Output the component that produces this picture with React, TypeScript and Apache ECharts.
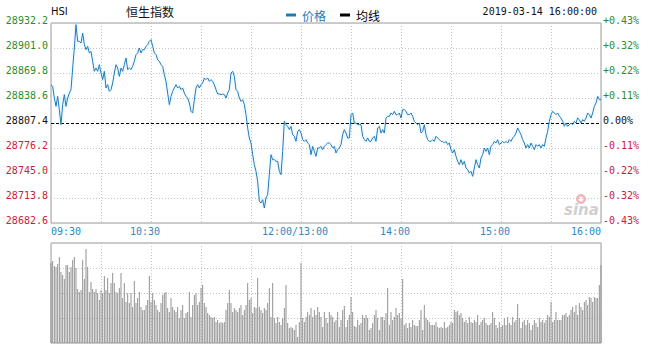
import React, { useEffect, useRef } from 'react';
import * as echarts from 'echarts';

const prevClose = 28807.4;

const priceValues = [
  28855.2, 28853.2, 28838.6, 28828.2, 28840.7, 28824.0, 28805.3, 28830.3, 28842.8, 28828.2,
  28838.6, 28844.8, 28849.0, 28876.0, 28901.0, 28930.1, 28909.3, 28909.3, 28907.2, 28919.7,
  28905.2, 28898.9, 28903.1, 28894.8, 28896.8, 28884.4, 28871.9, 28876.0, 28871.9, 28880.2,
  28869.8, 28861.5, 28871.9, 28851.1, 28855.2, 28846.9, 28849.0, 28857.3, 28869.8, 28880.2,
  28876.0, 28865.6, 28876.0, 28871.9, 28880.2, 28888.5, 28874.0, 28876.0, 28874.0, 28878.1,
  28884.4, 28892.7, 28894.8, 28901.0, 28894.8, 28898.9, 28898.9, 28903.1, 28905.2, 28909.3,
  28911.4, 28903.1, 28894.8, 28892.7, 28886.4, 28884.4, 28880.2, 28878.1, 28867.7, 28859.4,
  28844.8, 28830.3, 28840.7, 28846.9, 28851.1, 28855.2, 28851.1, 28853.2, 28849.0, 28851.1,
  28844.8, 28840.7, 28838.6, 28832.4, 28822.0, 28819.9, 28836.5, 28851.1, 28855.2, 28851.1,
  28855.2, 28857.3, 28863.6, 28861.5, 28863.6, 28859.4, 28861.5, 28859.4, 28855.2, 28849.0,
  28843.6, 28843.6, 28842.8, 28843.6, 28842.8, 28838.6, 28844.8, 28849.0, 28869.8, 28871.9,
  28865.6, 28849.0, 28846.9, 28838.6, 28834.4, 28836.5, 28830.3, 28817.8, 28801.2, 28788.7,
  28782.4, 28767.9, 28755.4, 28747.1, 28734.6, 28709.6, 28707.6, 28711.7, 28701.3, 28713.8,
  28718.0, 28742.9, 28767.9, 28761.6, 28761.6, 28759.6, 28759.6, 28747.1, 28742.9, 28772.0,
  28809.5, 28805.3, 28803.2, 28799.1, 28803.2, 28792.8, 28790.8, 28784.5, 28797.0, 28799.1,
  28794.9, 28786.6, 28784.5, 28786.6, 28782.4, 28780.4, 28767.9, 28778.3, 28772.0, 28765.8,
  28776.2, 28776.2, 28778.3, 28774.1, 28778.3, 28780.4, 28782.4, 28782.4, 28780.4, 28776.2,
  28778.3, 28770.0, 28774.1, 28776.2, 28780.4, 28792.8, 28799.1, 28794.9, 28788.7, 28788.7,
  28817.8, 28819.9, 28807.4, 28807.4, 28805.3, 28805.3, 28805.3, 28790.8, 28786.6, 28784.5,
  28788.7, 28784.5, 28784.5, 28788.7, 28790.8, 28784.5, 28801.2, 28803.2, 28794.9, 28799.1,
  28794.9, 28813.6, 28815.7, 28815.7, 28819.9, 28817.8, 28822.0, 28817.8, 28817.8, 28819.9,
  28813.6, 28824.0, 28824.0, 28822.0, 28817.8, 28817.8, 28819.9, 28815.7, 28809.5, 28807.4,
  28805.3, 28807.4, 28794.9, 28797.0, 28805.3, 28792.8, 28786.6, 28784.5, 28784.5, 28786.6,
  28784.5, 28790.8, 28788.7, 28786.6, 28784.5, 28784.5, 28782.4, 28784.5, 28780.4, 28782.4,
  28774.1, 28770.0, 28774.1, 28765.8, 28759.6, 28755.4, 28761.6, 28755.4, 28759.6, 28751.2,
  28749.2, 28745.0, 28747.1, 28740.8, 28751.2, 28761.6, 28755.4, 28751.2, 28763.7, 28767.9,
  28776.2, 28772.0, 28776.2, 28767.9, 28778.3, 28780.4, 28784.5, 28782.4, 28786.6, 28780.4,
  28782.4, 28784.5, 28782.4, 28784.5, 28782.4, 28786.6, 28784.5, 28788.7, 28790.8, 28794.9,
  28801.2, 28797.0, 28792.8, 28786.6, 28782.4, 28776.2, 28780.4, 28776.2, 28782.4, 28778.3,
  28774.1, 28780.4, 28778.3, 28780.4, 28776.2, 28780.4, 28778.3, 28788.7, 28797.0, 28809.5,
  28817.8, 28822.0, 28819.9, 28817.8, 28819.9, 28815.7, 28813.6, 28809.5, 28803.2, 28807.4,
  28803.2, 28805.3, 28807.4, 28805.3, 28809.5, 28807.4, 28813.6, 28811.6, 28807.4, 28811.6,
  28809.5, 28813.6, 28819.9, 28817.8, 28813.6, 28819.9, 28828.2, 28832.4, 28840.7, 28836.5, 28836.5,
];

const volumeValues = [
  80, 82, 77, 76, 79, 86, 71, 68, 64, 78,
  78, 71, 76, 83, 86, 75, 54, 51, 53, 83,
  64, 94, 76, 51, 61, 54, 51, 54, 50, 43,
  53, 50, 67, 53, 65, 50, 60, 70, 60, 51,
  50, 55, 70, 45, 60, 41, 50, 40, 50, 36,
  62, 40, 45, 51, 36, 33, 33, 38, 43, 67,
  41, 50, 43, 38, 33, 31, 40, 48, 50, 51,
  35, 31, 45, 36, 33, 31, 36, 25, 33, 38,
  25, 30, 31, 51, 26, 38, 48, 50, 38, 41,
  55, 58, 40, 36, 30, 28, 26, 25, 26, 21,
  23, 20, 21, 20, 21, 33, 40, 53, 40, 31,
  35, 33, 31, 35, 38, 28, 33, 38, 60, 43,
  45, 30, 36, 35, 65, 36, 33, 30, 35, 33,
  40, 55, 26, 60, 25, 20, 26, 21, 18, 25,
  35, 58, 20, 15, 16, 15, 13, 18, 6, 21,
  80, 25, 21, 26, 31, 28, 35, 26, 33, 28,
  36, 31, 26, 16, 31, 25, 20, 31, 28, 26,
  21, 23, 31, 16, 23, 33, 37, 16, 23, 28,
  46, 31, 17, 16, 23, 18, 20, 28, 25, 28,
  25, 13, 15, 20, 28, 33, 25, 13, 26, 26,
  23, 30, 55, 18, 31, 23, 26, 35, 28, 30,
  25, 64, 18, 20, 15, 20, 16, 23, 18, 17,
  17, 23, 33, 13, 38, 25, 23, 21, 18, 18,
  18, 21, 16, 15, 16, 15, 21, 15, 16, 18,
  21, 20, 33, 31, 32, 28, 30, 25, 21, 23,
  20, 26, 21, 20, 23, 21, 28, 18, 21, 23,
  25, 20, 18, 18, 20, 31, 25, 18, 15, 21,
  16, 18, 25, 18, 26, 20, 18, 26, 21, 23,
  39, 25, 15, 21, 23, 18, 23, 20, 13, 18,
  23, 20, 16, 25, 21, 23, 20, 23, 28, 26,
  41, 21, 23, 31, 23, 23, 23, 28, 28, 30,
  26, 28, 33, 36, 31, 38, 28, 40, 36, 33,
  41, 43, 38, 46, 45, 41, 46, 45, 45, 58, 78,
];

const timeTickMinutes = [0, 60, 150, 210, 270, 330];
const timeTickLabels = ['09:30', '10:30', '12:00/13:00', '14:00', '15:00', '16:00'];
const seriesNames = ['价格', '均线'];
const titleCode = 'HSI';
const titleName = '恒生指数';
const dateText = '2019-03-14 16:00:00';

export default function App() {
  const ref = useRef<HTMLDivElement>(null);

  useEffect(() => {
    const chart = echarts.init(ref.current!, null, { renderer: 'svg' });
    const mono = '"DejaVu Sans Mono", "Liberation Mono", monospace';
    const cjk = '"Noto Sans CJK SC", "Noto Sans", sans-serif';
    const green = '#2e8b2e';
    const red = '#c8213c';
    const blue = '#1f7ab8';
    const labelBlue = '#2a8ac4';
    const gridGray = '#c4c4c4';
    const borderGray = '#9a9a9a';

    const priceData = priceValues.map((p, i) => [i, Math.round((p - prevClose) * 10)]);
    const volData = volumeValues.map((v, i) => [i, v]);

    const leftFmt = (v: number) => {
      const n = Math.round(v);
      const s = (prevClose + n / 10).toFixed(1);
      return n > 0 ? `{g|${s}}` : n < 0 ? `{r|${s}}` : `{k|${s}}`;
    };
    const rightFmt = (v: number) => {
      const n = Math.round(v);
      const pct = (n / 10 / prevClose) * 100;
      if (n > 0) return `{g|+${pct.toFixed(2)}%}`;
      if (n < 0) return `{r|${pct.toFixed(2)}%}`;
      return `{k|0.00%}`;
    };
    const richY = {
      g: { color: green, fontFamily: mono, fontSize: 10, padding: [0, 0, 6, 0] },
      r: { color: red, fontFamily: mono, fontSize: 10, padding: [0, 0, 6, 0] },
      k: { color: '#111', fontFamily: mono, fontSize: 10, padding: [0, 0, 6, 0] },
    };
    const xFmt = (v: number) => {
      const idx = timeTickMinutes.indexOf(Math.round(v));
      if (idx < 0) return '';
      const t = timeTickLabels[idx];
      if (idx === 0) return `{a|${t}}`;
      if (idx === timeTickLabels.length - 1) return `{z|${t}}`;
      return `{m|${t}}`;
    };
    const xStyle = { color: labelBlue, fontFamily: mono, fontSize: 10 };

    const dotted = { color: gridGray, type: [1, 2] as any, width: 1 };

    chart.setOption({
      animation: false,
      backgroundColor: '#fff',
      legend: {
        left: 281,
        top: 4,
        itemWidth: 10,
        itemHeight: 3,
        itemGap: 14,
        icon: 'rect',
        selectedMode: false,
        data: [
          { name: seriesNames[0], textStyle: { color: blue } },
          { name: seriesNames[1], textStyle: { color: '#000' } },
        ],
        textStyle: { fontFamily: cjk, fontSize: 12, padding: [0, 0, 0, 1] },
      },
      grid: [
        { left: 51, top: 23, width: 550, height: 200, show: true, borderColor: borderGray, borderWidth: 1, backgroundColor: 'transparent' },
        { left: 51, top: 243, width: 550, height: 100, show: true, borderColor: borderGray, borderWidth: 1, backgroundColor: 'transparent' },
      ],
      xAxis: [
        {
          type: 'value', gridIndex: 0, min: 0, max: 330, interval: 30,
          axisLine: { show: false }, axisTick: { show: false },
          splitLine: { show: true, lineStyle: dotted },
          axisLabel: {
            show: true, margin: 3, formatter: xFmt, showMinLabel: true, showMaxLabel: true,
            rich: {
              a: { ...xStyle, padding: [0, 0, 0, 30] },
              z: { ...xStyle, padding: [0, 30, 0, 0] },
              m: { ...xStyle, padding: [0, 12, 0, 0] },
            },
          },
        },
        {
          type: 'value', gridIndex: 1, min: 0, max: 330, interval: 30,
          axisLine: { show: false }, axisTick: { show: false },
          splitLine: { show: true, lineStyle: dotted },
          axisLabel: { show: false },
        },
      ],
      yAxis: [
        {
          type: 'value', gridIndex: 0, min: -1248, max: 1248, interval: 312,
          axisLine: { show: false }, axisTick: { show: false },
          splitLine: { show: true, lineStyle: dotted },
          axisLabel: { margin: 3, formatter: leftFmt, rich: richY },
        },
        {
          type: 'value', gridIndex: 0, position: 'right', min: -1248, max: 1248, interval: 312,
          axisLine: { show: false }, axisTick: { show: false },
          splitLine: { show: false },
          axisLabel: { margin: 2, formatter: rightFmt, rich: richY },
        },
        {
          type: 'value', gridIndex: 1, min: 0, max: 100, interval: 25,
          axisLine: { show: false }, axisTick: { show: false },
          splitLine: { show: true, lineStyle: dotted },
          axisLabel: { show: false },
        },
      ],
      series: [
        {
          name: seriesNames[0],
          type: 'line',
          xAxisIndex: 0,
          yAxisIndex: 0,
          data: priceData,
          showSymbol: false,
          color: blue,
          lineStyle: { width: 1, color: blue, shadowColor: 'rgba(110,200,245,0.45)', shadowBlur: 3 },
          z: 3,
          markLine: {
            silent: true,
            symbol: ['none', 'none'],
            label: { show: false },
            lineStyle: { color: '#000', type: [3, 2], width: 1 },
            data: [{ yAxis: 0 }],
            z: 2,
          },
        },
        {
          name: seriesNames[1],
          type: 'line',
          xAxisIndex: 0,
          yAxisIndex: 0,
          data: [],
          color: '#000',
          showSymbol: false,
        },
        {
          name: '成交量',
          type: 'bar',
          xAxisIndex: 1,
          yAxisIndex: 2,
          data: volData,
          barWidth: 1,
          itemStyle: { color: '#929292' },
        },
      ],
      graphic: [
        { type: 'text', left: 51, top: 6, style: { text: titleCode, fontFamily: '"DejaVu Sans", sans-serif', fontSize: 10, fill: '#111' } },
        { type: 'text', left: 126, top: 5, style: { text: titleName, fontFamily: cjk, fontSize: 12, fill: '#111' } },
        { type: 'text', right: 51, top: 6, style: { text: dateText, fontFamily: mono, fontSize: 10, fill: '#111' } },
        { type: 'ring', shape: { cx: 581, cy: 199, r: 5, r0: 2.5 }, style: { fill: '#f2b3ba' } },
        { type: 'text', x: 564, y: 202, style: { text: 'sina', fontFamily: '"DejaVu Sans", sans-serif', fontStyle: 'italic', fontWeight: 'bold', fontSize: 15, fill: '#cfcfcf' } },
      ],
    });

    return () => chart.dispose();
  }, []);

  return <div ref={ref} style={{ position: 'fixed', left: 0, top: 0, width: 648, height: 347 }} />;
}
